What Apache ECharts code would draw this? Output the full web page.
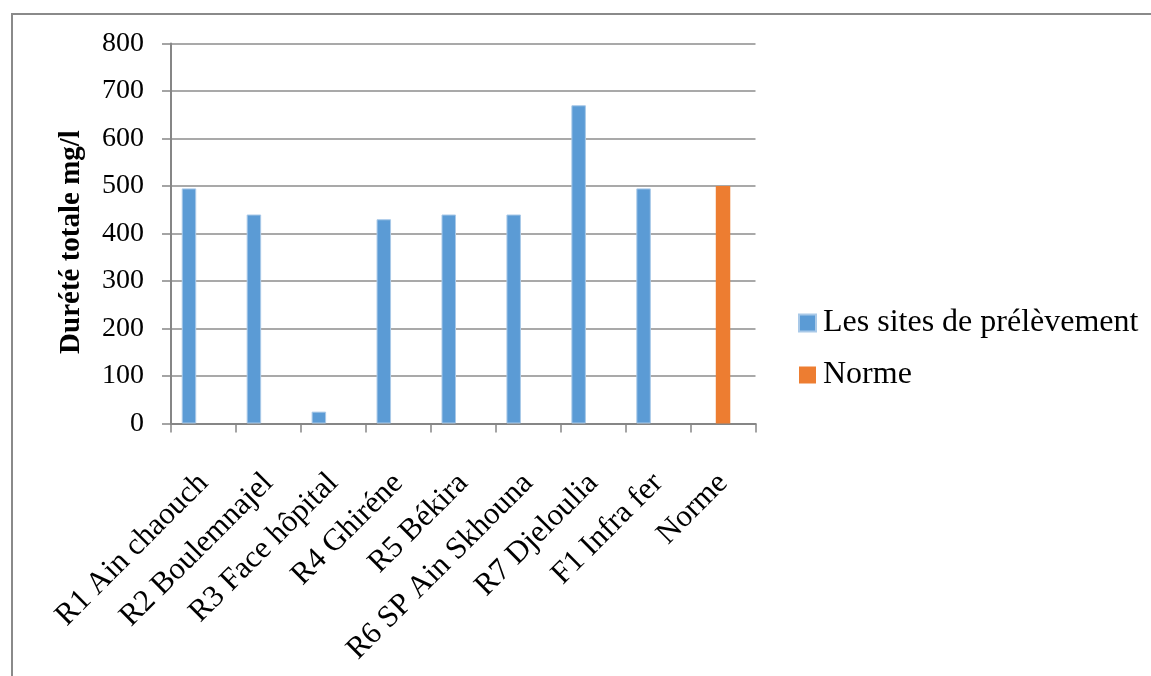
<!DOCTYPE html>
<html>
<head>
<meta charset="utf-8">
<script src="https://cdn.jsdelivr.net/npm/echarts@6/dist/echarts.min.js"></script>
<style>
  html, body { margin: 0; padding: 0; background: #ffffff; }
  #chart { width: 1151px; height: 676px; }
</style>
</head>
<body>
<div id="chart"></div>
<script>
// Sampling sites and total hardness values (mg/l)
const categories = ['R1 Ain chaouch', 'R2 Boulemnajel', 'R3 Face hôpital', 'R4 Ghiréne', 'R5 Békira',
  'R6 SP Ain Skhouna', 'R7 Djeloulia', 'F1 Infra fer', 'Norme'];
const sitesValues = [495, 440, 25, 430, 440, 440, 670, 495, '-'];
const normeValues = ['-', '-', '-', '-', '-', '-', '-', '-', 500];
const emptyValues = ['-', '-', '-', '-', '-', '-', '-', '-', '-'];
const seriesNames = ['Les sites de prélèvement', 'Norme'];
const yTitle = 'Durété totale mg/l';

const serif = '"Liberation Serif", "DejaVu Serif", serif';
const gridColor = '#8c8c8c';
const axisColor = '#868686';

const chart = echarts.init(document.getElementById('chart'), null, { renderer: 'canvas' });

chart.setOption({
  backgroundColor: '#ffffff',
  animation: false,
  textStyle: { fontFamily: serif },
  grid: { left: 171, right: 395.5, top: 43.5, bottom: 252.5, containLabel: false },
  legend: {
    data: seriesNames,
    orient: 'vertical',
    left: 798,
    top: 306,
    padding: 0,
    icon: 'rect',
    itemWidth: 17,
    itemHeight: 17,
    itemGap: 18,
    textStyle: { fontFamily: serif, fontSize: 32, color: '#000', lineHeight: 34, padding: [0, 0, 0, 2] }
  },
  xAxis: {
    type: 'category',
    data: categories,
    axisLine: { lineStyle: { color: axisColor, width: 2 } },
    axisTick: { show: true, length: 9, lineStyle: { color: axisColor, width: 1.5 } },
    axisLabel: {
      interval: 0,
      rotate: 45,
      margin: 55,
      fontFamily: serif,
      fontSize: 31,
      color: '#000'
    }
  },
  yAxis: {
    type: 'value',
    min: 0,
    max: 800,
    interval: 100,
    axisLine: { show: true, lineStyle: { color: axisColor, width: 2 } },
    axisTick: { show: true, length: 9, lineStyle: { color: axisColor, width: 1.5 } },
    axisLabel: { margin: 27, fontFamily: serif, fontSize: 28, color: '#000' },
    splitLine: { show: true, lineStyle: { color: gridColor, width: 1.5 } }
  },
  series: [
    {
      name: seriesNames[0],
      type: 'bar',
      data: sitesValues,
      barWidth: 14.5,
      barGap: '0%',
      itemStyle: { color: '#5B9BD5', borderColor: '#a9c9e8', borderWidth: 1 }
    },
    {
      name: seriesNames[1],
      type: 'bar',
      data: normeValues,
      barWidth: 14.5,
      barGap: '0%',
      itemStyle: { color: '#ED7D31' }
    },
    {
      name: 'vide',
      type: 'bar',
      data: emptyValues,
      barWidth: 14.5,
      barGap: '0%'
    }
  ],
  graphic: [
    {
      type: 'polyline',
      shape: { points: [[12, 676], [12, 14], [1151, 14]] },
      style: { stroke: '#8a8a8a', lineWidth: 2, fill: null }
    },
    {
      type: 'text',
      x: 72,
      y: 242,
      rotation: Math.PI / 2,
      style: {
        text: yTitle,
        fontFamily: serif,
        fontWeight: 'bold',
        fontSize: 29,
        fill: '#000',
        align: 'center',
        verticalAlign: 'middle'
      }
    }
  ]
});
</script>
</body>
</html>
